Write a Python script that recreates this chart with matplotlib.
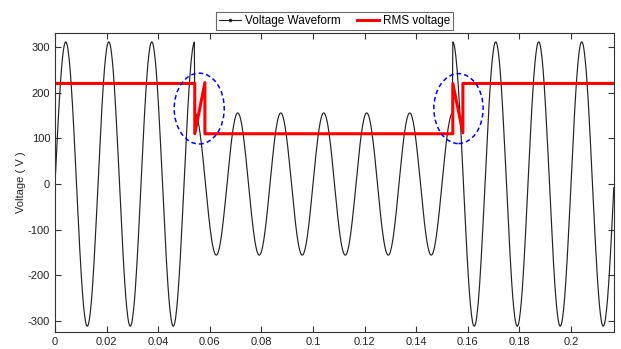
import numpy as np
import matplotlib.pyplot as plt
from matplotlib.patches import Ellipse
from matplotlib.lines import Line2D
from matplotlib.ticker import FuncFormatter

plt.rcParams['font.family'] = ['Liberation Sans', 'DejaVu Sans']
plt.rcParams['axes.unicode_minus'] = False

# --- waveform parameters ---
freq = 60.0            # Hz
v_peak_normal = 311.0  # V (220 V rms)
v_peak_sag = 155.5     # V (110 V rms)
sag_start = 0.05417    # s
sag_end = 0.15417      # s
t_end = 0.21667        # s
dt = 0.0002

# --- RMS voltage breakpoints ---
rms_t = [0, 0.05417, 0.05417, 0.0581, 0.0581, 0.1542, 0.1542, 0.1581, 0.1581, 0.21667]
rms_v = [220, 220, 110, 222, 110, 110, 220, 112, 220, 220]

# --- highlighted transitions (centre t, centre V, width s, height V) ---
marks = [(0.0559, 165, 0.0194, 155), (0.1564, 165, 0.0191, 153)]

t = np.arange(0, t_end + dt / 2, dt)
amp = np.where((t > sag_start) & (t < sag_end), v_peak_sag, v_peak_normal)
v = amp * np.sin(2 * np.pi * freq * t)

fig = plt.figure(figsize=(6.21, 3.49), dpi=100)
ax = fig.add_axes([0.0886, 0.0496, 0.9001, 0.8567])

ax.plot(t, v, color='#222222', lw=0.85)
ax.plot(rms_t, rms_v, color='red', lw=2.2)

for cx, cy, w, h in marks:
    ax.add_patch(Ellipse((cx, cy), w, h, fill=False, edgecolor='blue',
                         linestyle=(0, (3, 2)), lw=1.1, zorder=5))

ax.set_xlim(0, t_end)
ax.set_ylim(-323, 331)
ax.set_xticks(np.arange(0, 0.201, 0.02))
ax.set_yticks(np.arange(-300, 301, 100))
ax.xaxis.set_major_formatter(FuncFormatter(lambda x, p: '%g' % round(x, 3)))
ax.tick_params(direction='in', top=True, right=True, length=4, labelsize=8,
               colors='#333333', labelcolor='#222222')
for s in ax.spines.values():
    s.set_color('#333333')
    s.set_linewidth(0.8)
ax.set_ylabel('Voltage ( V )', fontsize=8, color='#222222')
ax.yaxis.set_label_coords(-0.052, 0.5)

handles = [Line2D([], [], color='#222222', lw=0.8, marker='.', markersize=3),
           Line2D([], [], color='red', lw=2.2)]
leg = ax.legend(handles, ['Voltage Waveform', 'RMS voltage'], loc='lower center',
                bbox_to_anchor=(0.5, 1.01), ncol=2, fontsize=8.5,
                frameon=True, fancybox=False, edgecolor='#444444', borderpad=0.25,
                handlelength=1.9, handletextpad=0.3, columnspacing=1.4, borderaxespad=0)
leg.get_frame().set_linewidth(0.8)

fig.savefig('out.png', dpi=100)
